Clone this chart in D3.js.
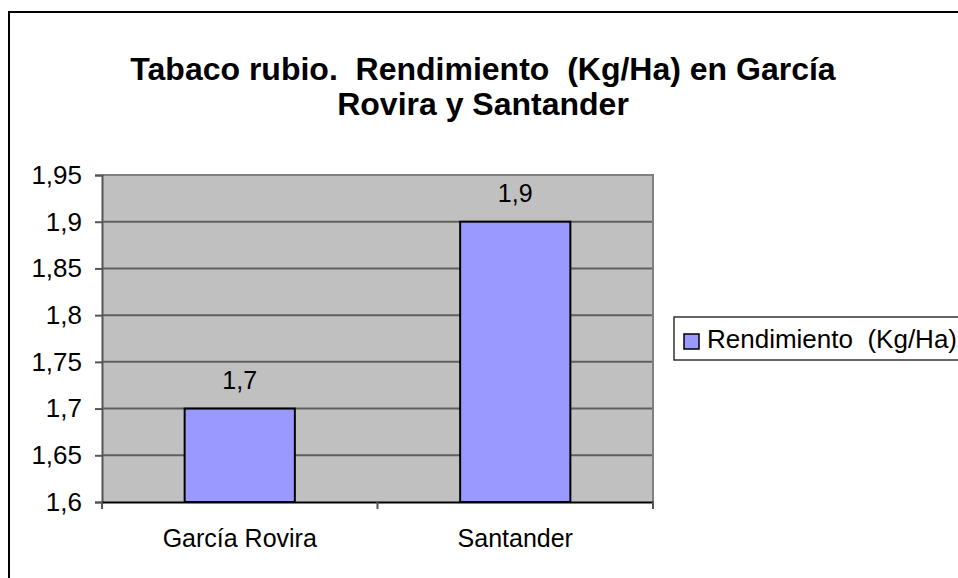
<!DOCTYPE html>
<html><head><meta charset="utf-8">
<script src="https://cdn.jsdelivr.net/npm/d3@7"></script>
<style>
html,body{margin:0;padding:0;background:#fff;}
svg{display:block;font-family:Arial,"Liberation Sans",sans-serif;}
</style></head>
<body><svg id="c" width="958" height="578"></svg>
<script>
const categories = ["García Rovira", "Santander"];
const seriesName = "Rendimiento  (Kg/Ha)";
const values = [1.7, 1.9];
const valueLabels = ["1,7", "1,9"];
const yTicks = [1.6, 1.65, 1.7, 1.75, 1.8, 1.85, 1.9, 1.95];
const yTickLabels = ["1,6", "1,65", "1,7", "1,75", "1,8", "1,85", "1,9", "1,95"];
const titleLines = ["Tabaco rubio.  Rendimiento  (Kg/Ha) en García", "Rovira y Santander"];

const svg = d3.select("#c");
const plot = {x0: 102, x1: 653, y0: 175, y1: 502};

// outer frame
svg.append("rect").attr("x", 9).attr("y", 12).attr("width", 980).attr("height", 600)
  .attr("fill", "#fff").attr("stroke", "#000").attr("stroke-width", 2);

const x = d3.scaleBand().domain(categories).range([plot.x0, plot.x1]).padding(0);
const y = d3.scaleLinear().domain([1.6, 1.95]).range([plot.y1, plot.y0]);

// plot background
svg.append("rect").attr("x", plot.x0).attr("y", plot.y0)
  .attr("width", plot.x1 - plot.x0).attr("height", plot.y1 - plot.y0)
  .attr("fill", "#c0c0c0");

// gridlines
svg.append("g").selectAll("line").data(yTicks.filter(t => t > 1.6 && t < 1.95)).join("line")
  .attr("x1", plot.x0).attr("x2", plot.x1)
  .attr("y1", d => y(d)).attr("y2", d => y(d))
  .attr("stroke", "#5f5f5f").attr("stroke-width", 2);

// plot border top/right
svg.append("path")
  .attr("d", `M${plot.x0},${plot.y0}H${plot.x1}V${plot.y1}`)
  .attr("fill", "none").attr("stroke", "#808080").attr("stroke-width", 2);

// bars
const bw = x.bandwidth() * 0.4;
svg.append("g").selectAll("rect").data(values).join("rect")
  .attr("x", (d, i) => x(categories[i]) + x.bandwidth() / 2 - bw / 2)
  .attr("y", d => y(d))
  .attr("width", bw)
  .attr("height", d => y(1.6) - y(d))
  .attr("fill", "#9999ff").attr("stroke", "#000").attr("stroke-width", 2);

// value labels
svg.append("g").selectAll("text").data(values).join("text")
  .attr("x", (d, i) => x(categories[i]) + x.bandwidth() / 2)
  .attr("y", d => y(d) - 20)
  .attr("text-anchor", "middle").attr("font-size", 25).attr("fill", "#000")
  .text((d, i) => valueLabels[i]);

// y axis
const yAxis = d3.axisLeft(y).tickValues(yTicks).tickSize(7).tickPadding(13)
  .tickFormat((d, i) => yTickLabels[i]);
const gy = svg.append("g").attr("transform", `translate(${plot.x0},0)`).call(yAxis);
gy.select(".domain").attr("stroke", "#555").attr("stroke-width", 2);
gy.selectAll(".tick line").attr("stroke", "#555").attr("stroke-width", 2);
gy.selectAll("text").attr("font-size", 26).attr("font-family", "Arial,'Liberation Sans',sans-serif").attr("fill", "#000");

// x axis
const xAxis = d3.axisBottom(x).tickSize(0).tickPadding(0);
const gx = svg.append("g").attr("transform", `translate(0,${plot.y1})`).call(xAxis);
gx.select(".domain").attr("stroke", "#000").attr("stroke-width", 2);
gx.selectAll("text").attr("font-size", 25).attr("font-family", "Arial,'Liberation Sans',sans-serif")
  .attr("fill", "#000").attr("dy", null).attr("y", 45);
// category boundary ticks
const bounds = [plot.x0, plot.x0 + x.step(), plot.x1];
gx.append("g").selectAll("line").data(bounds).join("line")
  .attr("x1", d => d).attr("x2", d => d).attr("y1", 0).attr("y2", 7)
  .attr("stroke", "#555").attr("stroke-width", 2);

// title
svg.append("g").selectAll("text").data(titleLines).join("text")
  .attr("x", 483).attr("y", (d, i) => 80 + i * 35)
  .attr("text-anchor", "middle").attr("font-size", 32).attr("font-weight", "bold")
  .style("white-space", "pre").attr("fill", "#000")
  .text(d => d);

// legend
const lg = svg.append("g");
lg.append("rect").attr("x", 674).attr("y", 317).attr("width", 320).attr("height", 43)
  .attr("fill", "#fff").attr("stroke", "#333").attr("stroke-width", 1.5);
lg.append("rect").attr("x", 684).attr("y", 334).attr("width", 15).attr("height", 15)
  .attr("fill", "#9999ff").attr("stroke", "#000").attr("stroke-width", 1.5);
lg.append("text").attr("x", 707).attr("y", 348).attr("font-size", 26)
  .style("white-space", "pre").attr("fill", "#000").text(seriesName);
</script></body></html>
